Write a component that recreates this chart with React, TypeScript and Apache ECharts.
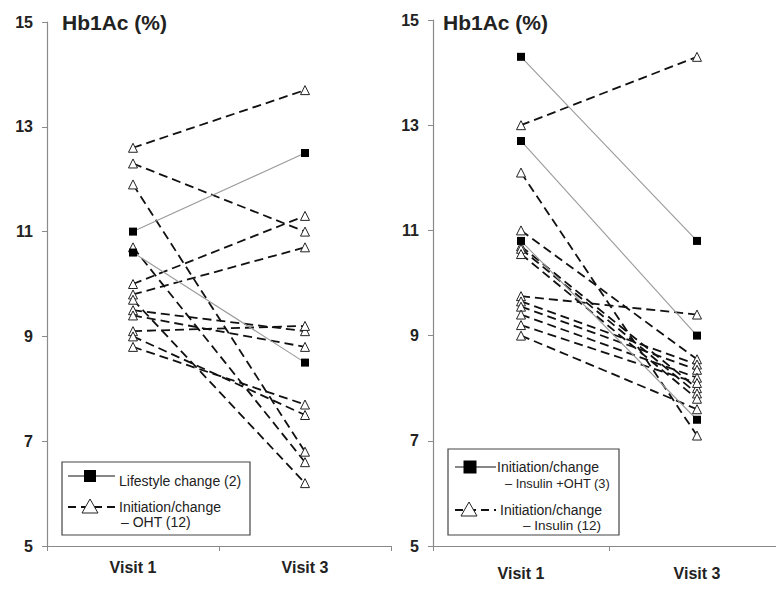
import React, { useEffect, useRef } from "react";
import * as echarts from "echarts";

const categories = ["Visit 1", "Visit 3"];

// Left panel
const leftLifestyleV1 = [11.0, 10.6];
const leftLifestyleV3 = [12.5, 8.5];
const leftOhtV1 = [12.6, 12.3, 11.9, 10.7, 10.0, 9.8, 9.7, 9.5, 9.4, 9.1, 9.0, 8.8];
const leftOhtV3 = [13.7, 11.0, 6.8, 6.6, 11.3, 10.7, 6.2, 9.1, 8.8, 9.2, 7.5, 7.7];

// Right panel
const rightInsOhtV1 = [14.3, 12.7, 10.8];
const rightInsOhtV3 = [10.8, 9.0, 7.4];
const rightInsV1 = [13.0, 12.1, 11.0, 10.7, 10.65, 10.55, 9.75, 9.65, 9.55, 9.4, 9.2, 9.0];
const rightInsV3 = [14.3, 7.1, 8.55, 8.0, 7.9, 7.8, 9.4, 8.45, 8.35, 8.2, 8.1, 7.6];

const titleText = "Hb1Ac (%)";
const FONT = "Arial, 'Liberation Sans', sans-serif";

function solidSeries(v1: number[], v3: number[], axis: number) {
  return v1.map((a, i) => ({
    type: "line",
    xAxisIndex: axis,
    yAxisIndex: axis,
    data: [a, v3[i]],
    symbol: "rect",
    symbolSize: 8,
    itemStyle: { color: "#000" },
    lineStyle: { color: "#9a9a9a", width: 1.1, type: "solid" },
    z: 3,
  }));
}

function dashedSeries(v1: number[], v3: number[], axis: number) {
  return v1.map((a, i) => ({
    type: "line",
    xAxisIndex: axis,
    yAxisIndex: axis,
    data: [a, v3[i]],
    symbol: "triangle",
    symbolSize: 9,
    itemStyle: { color: "#fff", borderColor: "#222", borderWidth: 1 },
    lineStyle: { color: "#111", width: 1.8, type: [9, 5] },
    z: 2,
  }));
}

function yAxis(idx: number) {
  return {
    type: "value",
    gridIndex: idx,
    min: 5,
    max: 15,
    interval: 2,
    splitLine: { show: false },
    axisLine: { show: true, lineStyle: { color: "#8a8a8a", width: 1.2 } },
    axisTick: { show: true, length: 5, lineStyle: { color: "#8a8a8a" } },
    axisLabel: { fontSize: 16, fontWeight: "bold", color: "#222", fontFamily: FONT, margin: 14 },
  };
}

function xAxis(idx: number, margin: number) {
  return {
    type: "category",
    gridIndex: idx,
    data: categories,
    boundaryGap: true,
    axisLine: { show: true, lineStyle: { color: "#8a8a8a", width: 1.2 } },
    axisTick: { show: true, length: 5, lineStyle: { color: "#8a8a8a" } },
    axisLabel: { fontSize: 16, fontWeight: "bold", color: "#222", fontFamily: FONT, margin },
  };
}

function text(x: number, y: number, t: string, size = 14, bold = false) {
  return {
    type: "text",
    x,
    y,
    style: {
      text: t,
      fontSize: size,
      fontWeight: bold ? "bold" : "normal",
      fontFamily: FONT,
      fill: "#222",
      textVerticalAlign: "middle",
    },
    z: 10,
  };
}

function square(cx: number, cy: number, s: number) {
  return {
    type: "rect",
    shape: { x: cx - s / 2, y: cy - s / 2, width: s, height: s },
    style: { fill: "#000" },
    z: 11,
  };
}

function tri(cx: number, cy: number) {
  return {
    type: "polygon",
    shape: { points: [[cx, cy - 8], [cx - 8, cy + 6], [cx + 8, cy + 6]] },
    style: { fill: "#fff", stroke: "#222", lineWidth: 1 },
    z: 11,
  };
}

function hline(x1: number, x2: number, y: number, dashed: boolean) {
  return {
    type: "line",
    shape: { x1, y1: y, x2, y2: y },
    style: { stroke: "#111", lineWidth: dashed ? 1.8 : 1.2, lineDash: dashed ? [8, 5] : null },
    z: 10,
  };
}

function box(x: number, y: number, w: number, h: number) {
  return {
    type: "rect",
    shape: { x, y, width: w, height: h },
    style: { fill: "#fff", stroke: "#444", lineWidth: 1.2 },
    z: 9,
  };
}

export default function App() {
  const ref = useRef<HTMLDivElement>(null);
  useEffect(() => {
    if (!ref.current) return;
    const chart = echarts.init(ref.current, undefined, { renderer: "svg" });
    const option = {
      animation: false,
      backgroundColor: "#fff",
      grid: [
        { left: 47, top: 22, width: 344, height: 524 },
        { left: 433, top: 20, width: 352, height: 526 },
      ],
      xAxis: [xAxis(0, 13), xAxis(1, 19)],
      yAxis: [yAxis(0), yAxis(1)],
      series: [
        ...dashedSeries(leftOhtV1, leftOhtV3, 0),
        ...solidSeries(leftLifestyleV1, leftLifestyleV3, 0),
        ...dashedSeries(rightInsV1, rightInsV3, 1),
        ...solidSeries(rightInsOhtV1, rightInsOhtV3, 1),
      ],
      graphic: [
        text(62, 22, titleText, 21, true),
        text(443, 22, titleText, 21, true),
        // left legend
        box(62, 462, 188, 73),
        hline(68, 115, 476, false),
        square(90, 476, 12),
        text(119, 481, "Lifestyle change (2)"),
        hline(68, 115, 507, true),
        tri(90, 507),
        text(119, 507, "Initiation/change"),
        text(121, 522, "– OHT (12)"),
        // right legend
        box(448, 449, 171, 86),
        hline(455, 496, 467, false),
        square(470, 467, 13),
        text(497, 467, "Initiation/change"),
        text(505, 483, "– Insulin +OHT (3)", 12.8),
        hline(455, 496, 510, true),
        tri(469, 510),
        text(500, 510, "Initiation/change"),
        text(523, 525, "– Insulin (12)", 13.5),
      ],
    };
    chart.setOption(option as any);
    return () => chart.dispose();
  }, []);
  return (
    <div style={{ position: "absolute", left: 0, top: 0, width: 776, height: 589, overflow: "hidden" }}>
      <div ref={ref} style={{ width: 800, height: 589 }} />
    </div>
  );
}
